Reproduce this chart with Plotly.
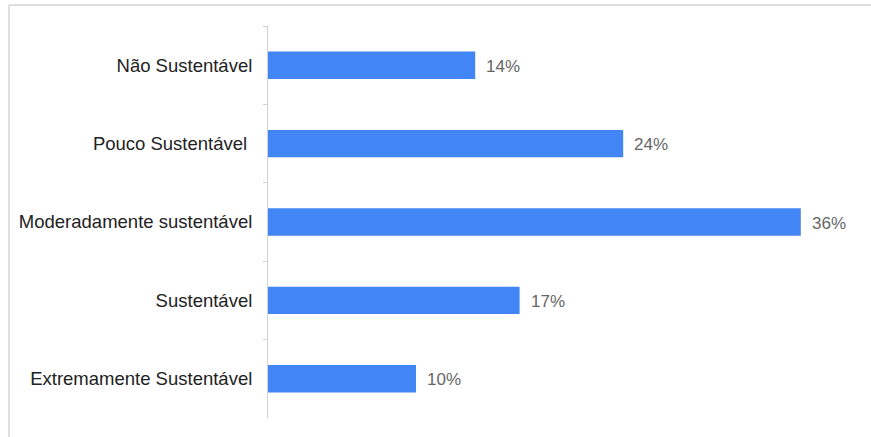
import plotly.graph_objects as go

# Survey: perceived sustainability level (share of responses, %)
categorias = [
    "Não Sustentável",
    "Pouco Sustentável\u00a0",
    "Moderadamente sustentável",
    "Sustentável",
    "Extremamente Sustentável",
]
percentuais = [14, 24, 36, 17, 10]
rotulos = [f"{v}%" for v in percentuais]

W, H = 871, 437
M_L, M_R, M_T, M_B = 268, 11, 26, 19

fig = go.Figure(
    go.Bar(
        x=percentuais,
        y=categorias,
        orientation="h",
        marker=dict(color="#4285F4", line=dict(width=0)),
        width=0.35,
        hoverinfo="skip",
    )
)

# value labels just right of each bar
for cat, v, txt in zip(categorias, percentuais, rotulos):
    fig.add_annotation(
        x=v, y=cat, text=txt, showarrow=False,
        xanchor="left", xshift=9, yshift=-1,
        font=dict(family="Liberation Sans, Arial, sans-serif", size=17, color="#666666"),
    )

# light frame along the top and left edges of the chart
pw = W - M_L - M_R
ph = H - M_T - M_B
x_left = (9 - M_L) / pw
y_top = (H - 5 - M_B) / ph
y_bot = (0 - M_B) / ph
fig.add_shape(type="line", xref="paper", yref="paper",
              x0=x_left, x1=(W - M_L) / pw, y0=y_top, y1=y_top,
              line=dict(color="#d4d4d4", width=1.5))
fig.add_shape(type="line", xref="paper", yref="paper",
              x0=x_left, x1=x_left, y0=y_top, y1=y_bot,
              line=dict(color="#d4d4d4", width=1.5))

fig.update_layout(
    width=W, height=H,
    margin=dict(l=M_L, r=M_R, t=M_T, b=M_B, pad=0),
    paper_bgcolor="white", plot_bgcolor="white",
    showlegend=False,
    font=dict(family="Liberation Sans, Arial, sans-serif", size=18.5, color="#222222"),
    xaxis=dict(range=[0, 40], visible=False, fixedrange=True),
    yaxis=dict(
        categoryorder="array", categoryarray=categorias,
        autorange="reversed",
        showline=True, linecolor="#d0d0d0", linewidth=1,
        ticks="outside", tickson="boundaries", ticklen=4, tickcolor="#d0d0d0",
        showgrid=False, zeroline=False,
        ticklabelstandoff=11,
        tickfont=dict(size=18.5, color="#222222"),
        fixedrange=True,
    ),
)

fig.write_html("out.html")
